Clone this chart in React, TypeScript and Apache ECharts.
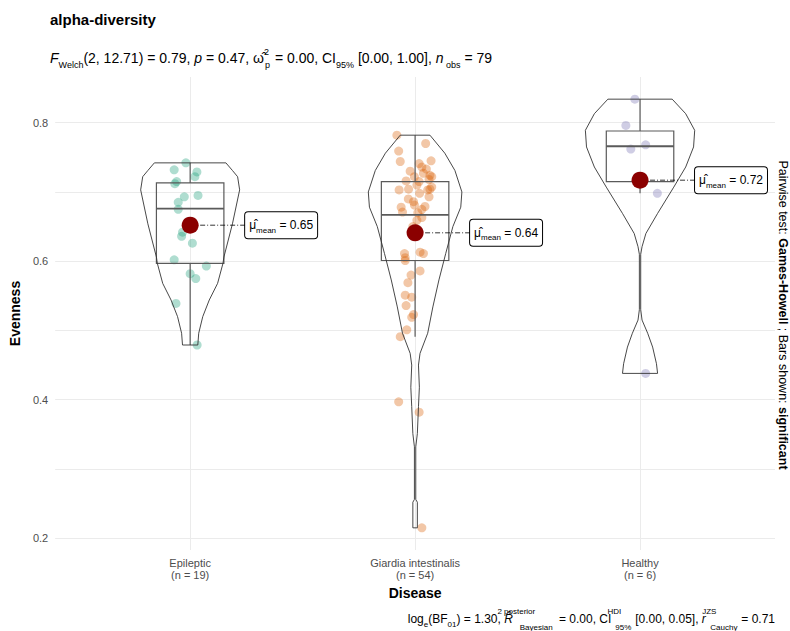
import React, { useEffect, useRef } from "react";
import * as echarts from "echarts";

const FONT = '"Liberation Sans", Arial, sans-serif';

const categories = ["Epileptic", "Giardia intestinalis", "Healthy"];
const counts = [19, 54, 6];
const groupColors = ["#1B9E77", "#D95F02", "#7570B3"];

const epilepticValues = [0.742, 0.732, 0.729, 0.722, 0.715, 0.712, 0.695, 0.693, 0.685, 0.675, 0.642, 0.636, 0.626, 0.602, 0.593, 0.582, 0.575, 0.539, 0.479];
const epilepticJitter = [-0.019, -0.071, 0.03, 0.021, -0.06, -0.068, 0.035, -0.026, -0.053, -0.053, -0.034, -0.038, 0.01, -0.071, 0.072, 0.0, 0.025, -0.063, 0.031];

const giardiaValues = [0.782, 0.77, 0.759, 0.744, 0.745, 0.741, 0.736, 0.733, 0.73, 0.727, 0.724, 0.722, 0.718, 0.722, 0.716, 0.715, 0.71, 0.707, 0.704, 0.703, 0.704, 0.703, 0.698, 0.693, 0.69, 0.686, 0.681, 0.679, 0.678, 0.675, 0.671, 0.67, 0.663, 0.659, 0.65, 0.64, 0.613, 0.611, 0.611, 0.605, 0.601, 0.586, 0.58, 0.569, 0.551, 0.548, 0.536, 0.523, 0.519, 0.501, 0.491, 0.397, 0.382, 0.215];
const giardiaJitter = [-0.081, 0.047, -0.073, -0.066, 0.071, 0.018, 0.03, 0.05, -0.022, 0.037, 0.066, 0.074, 0.062, -0.003, -0.04, 0.018, 0.008, 0.074, 0.066, -0.071, -0.029, 0.056, 0.02, 0.062, -0.03, -0.007, -0.003, 0.044, -0.062, 0.03, -0.056, 0.012, 0.03, 0.008, -0.01, 0.012, 0.022, -0.047, 0.037, -0.044, -0.044, 0.022, -0.018, -0.032, -0.044, -0.015, -0.04, -0.007, -0.015, -0.037, -0.066, -0.073, 0.018, 0.03];

const healthyValues = [0.834, 0.796, 0.768, 0.762, 0.698, 0.438];
const healthyJitter = [-0.023, -0.063, 0.025, -0.041, 0.077, 0.025];

const groupValues = [epilepticValues, giardiaValues, healthyValues];
const groupJitter = [epilepticJitter, giardiaJitter, healthyJitter];

// box statistics
const boxLow = [0.479, 0.491, 0.698];
const boxQ1 = [0.597, 0.601, 0.715];
const boxMedian = [0.676, 0.667, 0.766];
const boxQ3 = [0.713, 0.715, 0.788];
const boxHigh = [0.742, 0.782, 0.834];
const means = [0.652, 0.641, 0.717];

// violin profiles: [Evenness, half width in category units]
const epilepticViolin = [[0.479, 0.034], [0.496, 0.038], [0.52, 0.056], [0.544, 0.085], [0.568, 0.122], [0.597, 0.146], [0.606, 0.15], [0.654, 0.188], [0.703, 0.22], [0.722, 0.211], [0.731, 0.188], [0.742, 0.159]];
const giardiaViolin = [[0.215, 0.01], [0.252, 0.01], [0.256, 0.003], [0.332, 0.003], [0.351, 0.01], [0.39, 0.015], [0.418, 0.019], [0.45, 0.015], [0.467, 0.022], [0.496, 0.056], [0.534, 0.079], [0.573, 0.106], [0.611, 0.136], [0.65, 0.168], [0.678, 0.203], [0.7, 0.208], [0.731, 0.177], [0.756, 0.132], [0.782, 0.066]];
const healthyViolin = [[0.438, 0.078], [0.452, 0.073], [0.476, 0.056], [0.496, 0.034], [0.515, 0.009], [0.53, 0.003], [0.61, 0.003], [0.621, 0.009], [0.64, 0.026], [0.669, 0.078], [0.707, 0.15], [0.736, 0.203], [0.765, 0.238], [0.789, 0.243], [0.813, 0.203], [0.834, 0.143]];
const violins = [epilepticViolin, giardiaViolin, healthyViolin];

const yMin = 0.183;
const yMax = 0.866;

const pairwiseText = "Pairwise test: {b|Games-Howell} ; Bars shown: {b|significant}";

let measureCtx: CanvasRenderingContext2D | null = null;
function textWidth(s: string, size: number): number {
  if (!measureCtx) measureCtx = document.createElement("canvas").getContext("2d");
  if (!measureCtx) return s.length * size * 0.55;
  measureCtx.font = size + "px " + FONT;
  return measureCtx.measureText(s).width;
}

// Builds a rich-text string; stacked super/subscripts share one horizontal slot.
function buildRich(size: number, lh: number, subLift: number, parts: any[]) {
  const small = Math.round(size * 0.66);
  const rich: any = {
    n: { fontFamily: FONT, fontSize: size, color: "#000", lineHeight: lh, verticalAlign: "middle" },
    it: { fontFamily: FONT, fontSize: size, fontStyle: "italic", color: "#000", lineHeight: lh, verticalAlign: "middle" },
    sub: { fontFamily: FONT, fontSize: small, color: "#000", lineHeight: lh, verticalAlign: "bottom", padding: [0, 0, subLift, 0] },
  };
  let text = "";
  let k = 0;
  for (const p of parts) {
    if (typeof p === "string") {
      text += p;
    } else {
      k++;
      const wSup = textWidth(p.sup, small);
      const wSub = textWidth(p.sub, small);
      if (p.gap > 0) {
        rich["g" + k] = { fontFamily: FONT, fontSize: p.gap / 0.278, color: "#000", lineHeight: lh, verticalAlign: "middle" };
        text += "{g" + k + "| }";
      }
      rich["sp" + k] = { fontFamily: FONT, fontSize: small, color: "#000", lineHeight: lh, verticalAlign: "top", width: 1, align: "left" };
      rich["sb" + k] = { fontFamily: FONT, fontSize: small, color: "#000", lineHeight: lh, verticalAlign: "bottom", width: Math.max(wSup, wSub) + 1, align: "left" };
      text += "{sp" + k + "|" + p.sup + "}{sb" + k + "|" + p.sub + "}";
    }
  }
  return { text, rich };
}

export default function App() {
  const ref = useRef<HTMLDivElement>(null);
  useEffect(() => {
    if (!ref.current) return;
    const chart = echarts.init(ref.current, null, { renderer: "svg" });

    const subtitle = buildRich(14, 22, 0, [
      "{it|F}{sub|Welch}{n|(2, 12.71) = 0.79, }{it|p}{n| = 0.47, }{n|\u03C9\u0302}",
      { sup: "2", sub: "p", gap: 0 },
      "{n| = 0.00, CI}{sub|95%}{n| [0.00, 1.00], }{it|n}{sub| obs}{n| = 79}",
    ]);
    const caption = buildRich(12, 24, 3, [
      "{n|log}{sub|e}{n|(BF}{sub|01}{n|) = 1.30, }{it|R\u0302}",
      { sup: "2 posterior", sub: "Bayesian", gap: 3 },
      "{n| = 0.00, CI}",
      { sup: "HDI", sub: "95%", gap: 2.5 },
      "{n| [0.00, 0.05], }{it|r}",
      { sup: "JZS", sub: "Cauchy", gap: 3 },
      "{n| = 0.71}",
    ]);

    const pointSeries = groupValues.map((vals, g) => ({
      type: "scatter",
      name: categories[g],
      z: 2,
      symbolSize: 9,
      itemStyle: { color: groupColors[g], opacity: 0.35 },
      data: vals.map((v, i) => [g + 1 + groupJitter[g][i], v]),
    }));

    const labelRich = {
      mu: { fontFamily: FONT, fontSize: 12, color: "#000", lineHeight: 18, verticalAlign: "middle" },
      sub: { fontFamily: FONT, fontSize: 8, color: "#000", lineHeight: 18, verticalAlign: "bottom" },
      eq: { fontFamily: FONT, fontSize: 12, color: "#000", lineHeight: 18, verticalAlign: "middle" },
    };

    const option: any = {
      animation: false,
      backgroundColor: "#ffffff",
      title: {
        text: "alpha-diversity",
        left: 50,
        top: 12,
        padding: 0,
        textStyle: { fontFamily: FONT, fontSize: 15, fontWeight: "bold", color: "#000" },
      },
      grid: { left: 50, right: 15, top: 77, bottom: 81 },
      xAxis: {
        type: "value",
        min: 0.4,
        max: 3.6,
        splitNumber: 3,
        axisLine: { show: false },
        axisTick: { show: false },
        axisLabel: {
          showMinLabel: false,
          showMaxLabel: false,
          color: "#4D4D4D",
          fontFamily: FONT,
          fontSize: 11,
          lineHeight: 12,
          margin: 7,
          formatter: (v: number) => {
            const r = Math.round(v);
            if (Math.abs(v - r) > 1e-6 || r < 1 || r > 3) return "";
            return categories[r - 1] + "\n(n = " + counts[r - 1] + ")";
          },
        },
        splitLine: { show: true, showMinLine: false, showMaxLine: false, lineStyle: { color: "#EBEBEB", width: 1 } },
        name: "Disease",
        nameLocation: "middle",
        nameGap: 34,
        nameTextStyle: { fontFamily: FONT, fontSize: 14, fontWeight: "bold", color: "#000" },
      },
      yAxis: {
        type: "value",
        min: yMin,
        max: yMax,
        splitNumber: 7,
        axisLine: { show: false },
        axisTick: { show: false },
        axisLabel: {
          showMinLabel: false,
          showMaxLabel: false,
          color: "#4D4D4D",
          fontFamily: FONT,
          fontSize: 11,
          margin: 7,
          formatter: (v: number) => (Math.abs(v * 5 - Math.round(v * 5)) < 1e-6 ? v.toFixed(1) : ""),
        },
        splitLine: { show: true, showMinLine: false, showMaxLine: false, lineStyle: { color: "#EBEBEB", width: 1 } },
        name: "Evenness",
        nameLocation: "middle",
        nameGap: 24,
        nameRotate: 90,
        nameTextStyle: { fontFamily: FONT, fontSize: 14, fontWeight: "bold", color: "#000" },
      },
      graphic: [
        {
          type: "text",
          x: 50,
          y: 58,
          style: {
            text: subtitle.text,
            rich: subtitle.rich,
            align: "left",
            verticalAlign: "middle",
            textAlign: "left",
            textVerticalAlign: "middle",
          },
        },
        {
          type: "text",
          x: 775,
          y: 619,
          style: {
            text: caption.text,
            rich: caption.rich,
            align: "right",
            verticalAlign: "middle",
            textAlign: "right",
            textVerticalAlign: "middle",
          },
        },
        {
          type: "text",
          x: 783,
          y: 315,
          rotation: -Math.PI / 2,
          style: {
            text: pairwiseText,
            rich: {
              b: { fontFamily: FONT, fontSize: 12.5, fontWeight: "bold", color: "#000" },
            },
            fontFamily: FONT,
            fontSize: 12.5,
            fill: "#000",
            align: "center",
            verticalAlign: "middle",
            textAlign: "center",
            textVerticalAlign: "middle",
          },
        },
      ],
      series: [
        ...pointSeries,
        {
          type: "custom",
          name: "box",
          z: 3,
          data: [0, 1, 2],
          renderItem: (_p: any, api: any) => {
            const g = api.value(0);
            const x = g + 1;
            const hw = 0.15;
            const tl = api.coord([x - hw, boxQ3[g]]);
            const br = api.coord([x + hw, boxQ1[g]]);
            const ml = api.coord([x - hw, boxMedian[g]]);
            const mr = api.coord([x + hw, boxMedian[g]]);
            const wTop = api.coord([x, boxHigh[g]]);
            const wQ3 = api.coord([x, boxQ3[g]]);
            const wQ1 = api.coord([x, boxQ1[g]]);
            const wLow = api.coord([x, boxLow[g]]);
            const st = { stroke: "#5A5A5A", lineWidth: 1.2, fill: "none" };
            return {
              type: "group",
              children: [
                { type: "rect", shape: { x: tl[0], y: tl[1], width: br[0] - tl[0], height: br[1] - tl[1] }, style: st },
                { type: "line", shape: { x1: ml[0], y1: ml[1], x2: mr[0], y2: mr[1] }, style: { stroke: "#5A5A5A", lineWidth: 1.8 } },
                { type: "line", shape: { x1: wTop[0], y1: wTop[1], x2: wQ3[0], y2: wQ3[1] }, style: st },
                { type: "line", shape: { x1: wQ1[0], y1: wQ1[1], x2: wLow[0], y2: wLow[1] }, style: st },
              ],
            };
          },
        },
        {
          type: "custom",
          name: "violin",
          z: 4,
          data: [0, 1, 2],
          renderItem: (_p: any, api: any) => {
            const g = api.value(0);
            const x = g + 1;
            const prof = violins[g];
            const pts: number[][] = [];
            for (let i = 0; i < prof.length; i++) pts.push(api.coord([x - prof[i][1], prof[i][0]]));
            for (let i = prof.length - 1; i >= 0; i--) pts.push(api.coord([x + prof[i][1], prof[i][0]]));
            return {
              type: "polygon",
              shape: { points: pts },
              style: { fill: "none", stroke: "#333333", lineWidth: 0.9 },
            };
          },
        },
        {
          type: "custom",
          name: "meanLabel",
          z: 5,
          data: [0, 1, 2],
          renderItem: (_p: any, api: any) => {
            const g = api.value(0);
            const p = api.coord([g + 1, means[g]]);
            return {
              type: "group",
              children: [
                {
                  type: "line",
                  shape: { x1: p[0], y1: p[1], x2: p[0] + 55, y2: p[1] },
                  style: { stroke: "#000", lineWidth: 0.8, lineDash: [5, 2, 1, 2] },
                },
                {
                  type: "text",
                  x: p[0] + 55,
                  y: p[1],
                  style: {
                    text: "{mu|\u03BC\u0302}{sub|mean}{eq| = " + means[g].toFixed(2) + "}",
                    rich: labelRich,
                    align: "left",
                    verticalAlign: "middle",
                    textAlign: "left",
                    textVerticalAlign: "middle",
                    backgroundColor: "#fff",
                    borderColor: "#000",
                    borderWidth: 1,
                    borderRadius: 3,
                    padding: [4, 4, 4, 4],
                  },
                },
              ],
            };
          },
        },
        {
          type: "scatter",
          name: "mean",
          z: 6,
          symbolSize: 17,
          itemStyle: { color: "#8B0000", opacity: 1 },
          data: means.map((m, g) => [g + 1, m]),
        },
      ],
    };
    chart.setOption(option);
    return () => chart.dispose();
  }, []);
  return <div ref={ref} style={{ position: "fixed", left: 0, top: 0, width: 790, height: 631 }} />;
}
